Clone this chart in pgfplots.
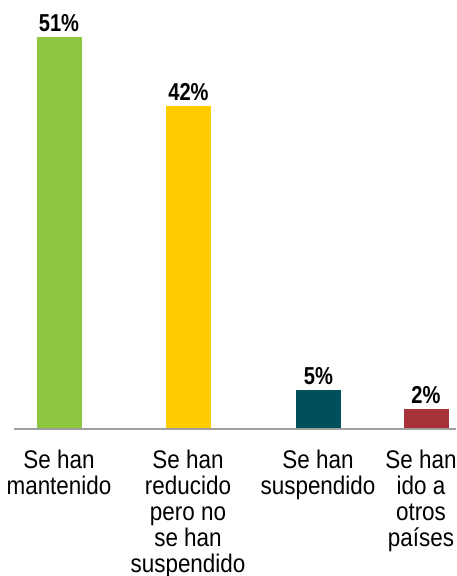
\documentclass[border=0pt]{standalone}
\usepackage{fontspec}
\setmainfont{Liberation Sans}[FakeStretch=0.88]
\newfontfamily\valfont{Liberation Sans}[FakeStretch=0.82]
\usepackage{pgfplots}
\pgfplotsset{compat=1.18}
\definecolor{cGreen}{RGB}{141,198,63}
\definecolor{cYellow}{RGB}{255,204,0}
\definecolor{cTeal}{RGB}{0,80,92}
\definecolor{cRed}{RGB}{168,50,58}
\definecolor{cAxis}{RGB}{160,160,160}
\begin{document}
\begin{tikzpicture}
\useasboundingbox (-14pt,-146.7pt) rectangle (442pt,429.3pt);
\begin{axis}[
  at={(0pt,0pt)}, anchor=south west,
  scale only axis, width=442pt, height=429.3pt,
  xmin=14, xmax=456, ymin=-0.17, ymax=55.8,
  axis x line=bottom, axis y line=none,
  axis line style={cAxis, line width=1.8pt, -},
  ytick=\empty,
  xtick={59,188,318,421},
  xticklabels={{Se han\\mantenido},{Se han\\reducido\\pero no\\se han\\suspendido},{Se han\\suspendido},{Se han\\ido a\\otros\\países}},
  major tick length=0pt,
  xticklabel style={font=\fontsize{25.5}{26}\selectfont, align=center, anchor=north, inner sep=0pt},
  xticklabel shift=21pt,
  ybar, bar width=45, bar shift=0pt,
  clip=false,
  nodes near coords,
  point meta=explicit symbolic,
  every node near coord/.append style={font=\valfont\bfseries\fontsize{24.5}{24}\selectfont, anchor=base, yshift=5pt, inner sep=0pt, black},
]
\addplot[draw=none, fill=cGreen] coordinates {(59,51) [51\%]};
\addplot[draw=none, fill=cYellow] coordinates {(188.5,42) [42\%]};
\addplot[draw=none, fill=cTeal] coordinates {(318.5,5) [5\%]};
\addplot[draw=none, fill=cRed] coordinates {(426,2.5) [2\%]};
\end{axis}
\end{tikzpicture}
\end{document}
